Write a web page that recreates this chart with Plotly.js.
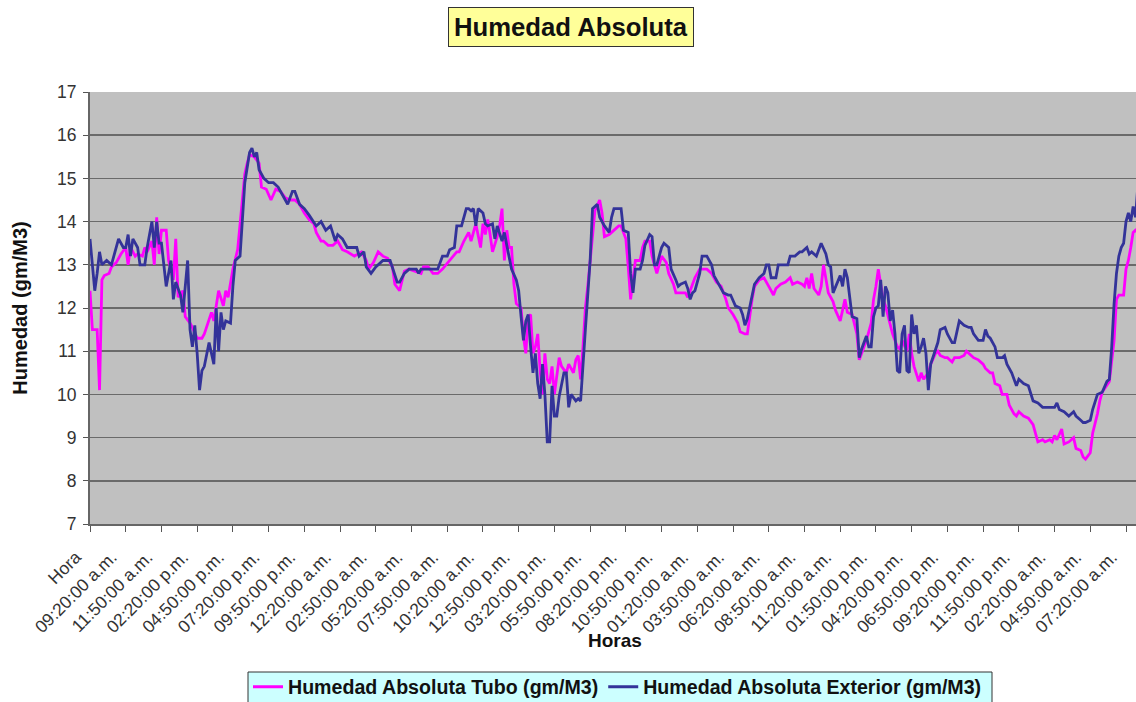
<!DOCTYPE html>
<html>
<head>
<meta charset="utf-8">
<script src="https://cdn.plot.ly/plotly-3.0.1.min.js"></script>
<style>
  html, body { margin: 0; padding: 0; background: #ffffff; }
  #chart { width: 1136px; height: 702px; }
</style>
</head>
<body>
<div id="chart"></div>
<script>
// Readings are taken every 10 minutes; x is the reading number in the series.
// Axis labels every 15 readings (2 h 30 min).
const horaLabels = [
  "Hora", "09:20:00 a.m.", "11:50:00 a.m.", "02:20:00 p.m.", "04:50:00 p.m.",
  "07:20:00 p.m.", "09:50:00 p.m.", "12:20:00 a.m.", "02:50:00 a.m.", "05:20:00 a.m.",
  "07:50:00 a.m.", "10:20:00 a.m.", "12:50:00 p.m.", "03:20:00 p.m.", "05:50:00 p.m.",
  "08:20:00 p.m.", "10:50:00 p.m.", "01:20:00 a.m.", "03:50:00 a.m.", "06:20:00 a.m.",
  "08:50:00 a.m.", "11:20:00 a.m.", "01:50:00 p.m.", "04:20:00 p.m.", "06:50:00 p.m.",
  "09:20:00 p.m.", "11:50:00 p.m.", "02:20:00 a.m.", "04:50:00 a.m.", "07:20:00 a.m."
];
const LABEL_EVERY = 15;

// Humedad Absoluta Tubo (gm/M3)
const tuboIdx = [
  0,1,3,4,5,6,8,9,11,13,15,16,17,19,20,22,23,24,26,27,28,29,30,32,33,34,35,36,37,39,
  40,42,43,45,47,48,50,51,52,54,56,57,58,60,62,63,65,66,67,69,71,72,74,76,78,80,82,84,86,88,
  90,92,94,95,97,98,100,102,104,106,108,111,114,116,117,119,121,123,125,127,128,130,132,134,137,139,140,142,144,146,
  148,151,153,154,155,157,159,160,161,162,164,165,166,167,168,169,171,172,173,174,175,176,177,178,179,181,182,183,184,185,
  186,187,188,189,190,191,192,193,194,195,197,198,200,201,203,204,205,206,207,208,209,211,212,214,215,216,218,219,220,222,
  223,225,226,227,229,231,232,233,235,236,238,239,240,242,243,245,246,250,251,253,254,256,259,261,263,265,267,268,270,272,
  273,275,276,278,279,281,283,285,287,288,290,292,294,295,297,299,300,301,302,303,304,306,307,308,309,310,312,313,315,316,
  317,318,320,322,323,324,326,328,329,330,331,332,333,334,336,337,339,340,341,343,344,345,346,348,349,350,352,353,355,356,
  357,359,360,362,363,365,367,368,370,371,373,375,376,378,379,380,382,383,385,386,388,389,390,392,394,396,397,398,400,401,
  403,404,405,406,408,409,411,413,414,416,417,418,420,421,423,424,425,427,428,430,431,432,434,435,436,437,438,439,440
];
const tuboVal = [
  12.4,11.5,11.5,10.1,12.65,12.75,12.8,12.95,13.05,13.25,13.4,13.0,13.4,13.2,13.25,13.2,13.4,13.3,13.55,13.0,14.1,13.25,13.8,13.8,13.1,12.9,12.65,13.6,12.25,12.4,
  11.8,11.65,11.55,11.3,11.3,11.4,11.7,11.9,11.7,12.4,12.05,12.4,12.25,12.9,13.35,14.0,15.1,15.35,15.55,15.5,15.35,14.8,14.75,14.5,14.75,14.7,14.55,14.5,14.5,14.4,
  14.2,14.05,13.95,13.75,13.55,13.55,13.45,13.45,13.55,13.35,13.3,13.2,13.3,13.1,12.9,13.05,13.3,13.2,13.15,12.95,12.55,12.4,12.85,12.9,12.85,12.8,12.95,12.95,12.8,12.8,
  12.9,13.1,13.25,13.3,13.3,13.55,13.75,13.55,13.75,13.95,13.4,13.95,13.7,14.05,13.7,13.3,13.65,13.9,14.3,13.1,13.8,13.4,13.4,12.55,12.1,12.0,11.35,10.95,11.8,11.85,
  10.95,11.1,11.4,10.55,10.0,10.95,10.35,10.25,10.65,10.0,10.85,10.65,10.5,10.7,10.5,10.8,10.9,10.35,11.1,12.0,12.5,13.8,14.25,14.5,14.2,13.65,13.7,13.75,13.8,13.9,
  13.9,13.6,12.95,12.2,13.1,13.1,13.4,13.55,13.55,13.2,12.8,13.0,13.2,13.05,12.8,12.55,12.35,12.35,12.25,12.55,12.7,12.9,12.9,12.8,12.6,12.5,12.2,12.0,11.85,11.65,
  11.45,11.4,11.4,12.2,12.5,12.65,12.7,12.5,12.3,12.45,12.55,12.6,12.7,12.55,12.6,12.55,12.5,12.7,12.45,12.8,12.45,12.3,12.5,13.0,12.7,12.35,12.15,11.95,11.7,11.95,
  12.2,11.9,11.85,11.4,10.8,10.95,11.25,11.65,12.2,12.5,12.9,12.55,12.2,12.05,11.65,11.4,11.1,11.05,11.25,11.0,11.4,10.95,10.65,10.3,10.5,10.35,10.5,10.7,10.95,11.0,
  10.9,10.85,10.85,10.75,10.85,10.85,10.9,11.0,10.9,10.85,10.8,10.7,10.6,10.5,10.5,10.25,10.2,10.0,10.0,9.75,9.55,9.5,9.6,9.5,9.45,9.3,9.1,8.9,8.95,8.9,
  8.95,8.9,9.05,8.95,9.2,8.85,8.9,9.0,8.75,8.7,8.55,8.5,8.65,9.1,9.55,9.85,10.05,10.2,10.3,11.25,12.2,12.3,12.3,12.9,13.1,13.4,13.75,13.8,13.75
];

// Humedad Absoluta Exterior (gm/M3)
const exteriorIdx = [
  0,2,3,4,5,7,9,10,12,14,15,16,17,18,20,21,23,24,26,27,28,29,30,32,34,35,36,38,39,41,
  42,43,44,45,46,47,48,50,52,53,54,55,56,57,59,60,61,63,64,65,67,68,69,70,71,73,75,77,79,80,
  82,83,85,86,88,90,92,94,95,97,98,99,101,103,104,106,108,112,113,115,116,118,120,123,126,127,129,130,132,134,
  137,138,139,142,146,148,150,151,153,154,156,158,159,160,161,162,163,165,166,167,169,170,171,173,174,175,176,177,179,180,
  181,182,183,184,185,186,187,188,189,190,191,192,193,194,195,196,197,199,200,201,202,204,205,206,208,210,211,213,214,216,
  218,219,220,223,224,226,227,228,229,231,232,233,235,236,237,238,240,241,243,244,246,247,248,250,251,252,253,254,256,257,
  259,261,262,264,266,268,269,271,273,274,275,276,278,279,281,283,284,285,286,288,289,293,294,296,298,299,301,302,303,305,
  307,309,310,311,312,314,315,316,317,318,320,322,323,324,326,327,328,329,330,331,332,333,334,335,336,337,338,339,340,341,
  342,343,344,345,346,347,348,349,350,351,352,353,355,356,357,359,360,362,363,365,367,369,370,371,373,375,376,377,378,380,
  381,383,384,385,387,388,389,390,392,394,395,396,398,400,403,405,406,407,409,411,413,414,416,417,418,420,421,423,425,426,
  427,428,429,430,431,432,433,434,435,436,437,438,439,440
];
const exteriorVal = [
  13.6,12.4,12.8,13.3,13.0,13.1,13.0,13.2,13.6,13.4,13.4,13.7,13.2,13.6,13.4,13.0,13.0,13.4,14.0,13.4,14.0,13.5,13.5,12.5,13.1,12.2,12.6,12.3,11.9,13.1,
  11.5,11.1,11.6,10.95,10.1,10.55,10.65,11.2,10.7,12.0,11.0,11.9,11.5,11.7,11.65,12.5,13.1,13.2,14.0,14.9,15.6,15.7,15.5,15.6,15.2,15.0,14.9,14.9,14.8,14.7,
  14.5,14.4,14.7,14.7,14.4,14.3,14.15,14.0,13.9,14.0,13.9,13.8,13.9,13.55,13.7,13.6,13.4,13.4,13.2,13.3,12.95,12.8,12.95,13.1,13.1,12.95,12.6,12.6,12.8,12.9,
  12.9,12.8,12.9,12.9,12.9,13.2,13.2,13.35,13.4,13.9,13.9,14.3,14.3,14.25,14.3,13.9,14.3,14.2,13.95,13.9,13.95,13.6,13.9,13.55,13.75,13.45,13.2,12.9,12.65,12.4,
  11.8,11.25,11.7,11.85,11.1,10.5,10.95,10.25,9.9,10.7,10.0,8.9,8.9,10.2,9.5,9.5,9.95,10.5,10.5,9.7,10.0,9.85,9.9,9.85,11.5,13.1,14.3,14.4,14.1,13.9,
  13.75,14.1,14.3,14.3,13.8,13.75,12.8,12.35,12.9,12.9,13.1,13.45,13.7,13.65,13.0,13.0,13.4,13.5,13.4,12.9,12.65,12.5,12.55,12.6,12.45,12.2,12.35,12.4,12.8,13.2,
  13.2,13.0,12.75,12.55,12.35,12.3,12.3,12.05,12.0,11.85,11.6,11.75,12.25,12.55,12.7,12.8,13.0,13.0,12.7,12.7,13.0,13.0,13.2,13.2,13.3,13.3,13.4,13.25,13.3,13.2,
  13.5,13.25,13.0,12.95,12.35,12.65,12.75,12.5,12.9,12.7,11.8,11.75,10.85,11.05,11.35,11.1,11.1,11.8,12.0,12.05,12.65,11.8,12.5,12.35,11.7,11.95,11.4,10.55,10.5,11.4,
  11.6,10.55,10.5,11.85,11.4,11.6,10.95,11.1,11.3,10.95,10.1,10.7,11.0,11.2,11.5,11.55,11.4,11.2,11.2,11.7,11.6,11.55,11.55,11.4,11.25,11.25,11.5,11.35,11.3,11.1,
  10.85,10.85,10.9,10.7,10.5,10.35,10.2,10.35,10.25,10.2,10.0,9.85,9.8,9.7,9.7,9.7,9.8,9.65,9.6,9.5,9.6,9.5,9.4,9.35,9.35,9.4,9.65,10.0,10.05,10.2,
  10.3,10.35,11.1,12.1,12.8,13.2,13.4,13.5,14.0,14.2,14.0,14.35,14.1,14.85
];

const FONT = "Liberation Sans, Arial, sans-serif";
const PLOT_LEFT = 90, PLOT_RIGHT = 1136, PLOT_TOP = 92, PLOT_BOTTOM = 524;

// helpers to place page furniture in paper coordinates from pixel positions
const px2x = (px) => (px - PLOT_LEFT) / (PLOT_RIGHT - PLOT_LEFT);
const px2y = (py) => (PLOT_BOTTOM - py) / (PLOT_BOTTOM - PLOT_TOP);

const traces = [
  {
    type: "scatter", mode: "lines",
    name: "Humedad Absoluta Tubo (gm/M3)",
    x: tuboIdx, y: tuboVal,
    line: { color: "#ff00ff", width: 2.8 }
  },
  {
    type: "scatter", mode: "lines",
    name: "Humedad Absoluta Exterior (gm/M3)",
    x: exteriorIdx, y: exteriorVal,
    line: { color: "#333399", width: 2.8 }
  }
];

const layout = {
  width: 1136, height: 702,
  margin: { l: PLOT_LEFT, r: 1136 - PLOT_RIGHT, t: PLOT_TOP, b: 702 - PLOT_BOTTOM, autoexpand: false },
  paper_bgcolor: "#ffffff",
  plot_bgcolor: "#c0c0c0",
  font: { family: FONT, color: "#222222" },
  showlegend: true,
  legend: {
    orientation: "h",
    x: px2x(248), xanchor: "left",
    y: px2y(687), yanchor: "middle",
    bgcolor: "rgba(0,0,0,0)",
    borderwidth: 0,
    font: { family: FONT, size: 19.6, weight: "bold", color: "#111111" },
    tracegroupgap: 0
  },
  shapes: [
    {
      // legend frame
      type: "rect", xref: "paper", yref: "paper", layer: "below",
      x0: px2x(248), x1: px2x(992), y0: px2y(672), y1: px2y(706),
      fillcolor: "#ccffff",
      line: { color: "#333333", width: 1 }
    }
  ],
  xaxis: {
    range: [0, 439.2],
    tickmode: "array",
    tickvals: horaLabels.map((_, i) => i * LABEL_EVERY),
    ticktext: horaLabels,
    tickangle: -45,
    tickfont: { family: FONT, size: 17.5, color: "#333333" },
    ticklabelshift: -14,
    ticklabelstandoff: 8,
    ticks: "outside", ticklen: 6, tickcolor: "#555555", tickwidth: 1,
    showgrid: false, zeroline: false,
    showline: true, linecolor: "#666666", linewidth: 2,
    automargin: false
  },
  yaxis: {
    range: [7, 17],
    dtick: 1,
    tickfont: { family: FONT, size: 17.5, color: "#333333" },
    ticks: "outside", ticklen: 5, tickcolor: "#555555", tickwidth: 1,
    ticklabelstandoff: 3,
    showgrid: true, gridcolor: "#6a6a6a", gridwidth: 1.5,
    zeroline: false,
    showline: true, linecolor: "#666666", linewidth: 2,
    automargin: false,
    title: {
      text: "Humedad (gm/M3)",
      font: { family: FONT, size: 20, weight: "bold", color: "#111111" },
      standoff: 24
    }
  },
  annotations: [
    {
      xref: "paper", yref: "paper",
      x: px2x(571), y: px2y(27), xanchor: "center", yanchor: "middle",
      text: "<b>Humedad Absoluta</b>",
      showarrow: false,
      font: { family: FONT, size: 25.7, color: "#111111" },
      bgcolor: "#ffff99",
      bordercolor: "#333333", borderwidth: 1, borderpad: 5
    },
    {
      xref: "paper", yref: "paper",
      x: px2x(615), y: px2y(640), xanchor: "center", yanchor: "middle",
      text: "<b>Horas</b>",
      showarrow: false,
      font: { family: FONT, size: 19, color: "#111111" }
    }
  ]
};

Plotly.newPlot("chart", traces, layout, { displayModeBar: false, staticPlot: true });
</script>
</body>
</html>
